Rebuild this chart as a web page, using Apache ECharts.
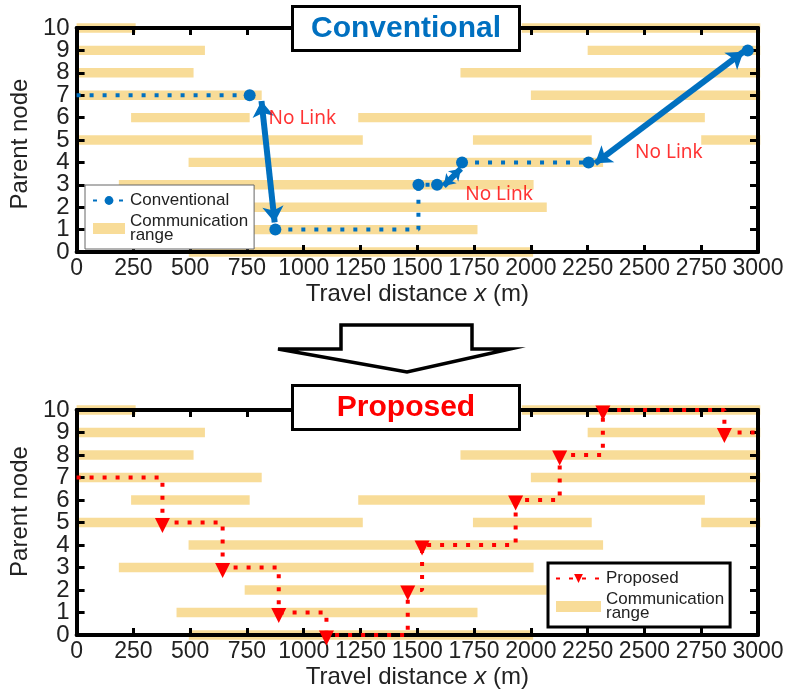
<!DOCTYPE html>
<html>
<head>
<meta charset="utf-8">
<title>Conventional vs Proposed</title>
<script src="https://cdn.jsdelivr.net/npm/echarts@6/dist/echarts.min.js"></script>
<style>
    html, body { margin: 0; padding: 0; background: #fff; }
    #chart { width: 787px; height: 696px; }
</style>
</head>
<body>
<div id="chart"></div>
<script>
//通信范围 (same for both plots): row, start, end in m
var rangeRow = [10, 10, 9, 9, 8, 8, 7, 7, 6, 6, 5, 5, 5, 4, 3, 2, 1, 0];
var rangeStart = [0, 1960, 0, 2250, 0, 1690, 0, 2000, 240, 1240, 0, 1745, 2750, 493, 186, 740, 440, 494];
var rangeEnd = [260, 3010, 565, 3010, 515, 3010, 815, 3010, 762, 2766, 1260, 2268, 3010, 2318, 2012, 2070, 1765, 2010];

//Conventional path ('-' = break)
var convX = [0, 762, '-', 875, 1505, 1505, 1587, '-', 1697, 2254, '-', 2955];
var convY = [7, 7, '-', 1, 1, 3, 3, '-', 4, 4, '-', 9];
var convMark = [0, 1, 0, 1, 0, 1, 1, 0, 1, 1, 0, 1];

//No Link arrows
var arrowFrom = [[814, 6.74], [1616, 2.95], [2283, 3.96]];
var arrowTo = [[872, 1.32], [1692, 3.72], [2936, 8.94]];
var arrowHead = [16, 11, 16];
var noLinkPos = [[845, 5.97], [1711, 2.58], [2459, 4.43]];

//Proposed path
var propX = [0, 378, 378, 643, 643, 890, 890, 1100, 1100, 1458, 1458, 1521, 1521, 1933, 1933, 2127, 2127, 2317, 2317, 2852, 2852, 3000];
var propY = [7, 7, 5, 5, 3, 3, 1, 1, 0, 0, 2, 2, 4, 4, 6, 6, 8, 8, 10, 10, 9, 9];
var propMark = [0, 0, 1, 0, 1, 0, 1, 0, 1, 0, 1, 0, 1, 0, 1, 0, 1, 0, 1, 0, 1, 0];

//刻度
var xTicks = { min: 0, max: 3000, interval: 250 };
var yTicks = { min: 0, max: 10, interval: 1 };
var yLabels = ['0', '1', '2', '3', '4', '5', '6', '7', '8', '9', '10'];

var BLUE = '#0070c0';
var RED = '#ff0000';
var TAN = '#f8dc98';
var FONT = 'Liberation Sans';

//组装数据
function rangeData() {
    var out = [];
    for (var i = 0; i < rangeRow.length; i++) {
        out.push([rangeStart[i], rangeEnd[i], rangeRow[i]]);
    }
    return out;
}
function pathData(xs, ys, marks, sym) {
    var out = [];
    for (var i = 0; i < xs.length; i++) {
        out.push({ value: [xs[i], ys[i]], symbol: marks[i] ? sym : 'none' });
    }
    return out;
}

//范围条
function renderRange(params, api) {
    var s = api.coord([api.value(0), api.value(2)]);
    var e = api.coord([api.value(1), api.value(2)]);
    var h = api.size([0, 1])[1] * 0.42;
    return {
        type: 'rect',
        shape: { x: s[0], y: s[1] - h / 2, width: e[0] - s[0], height: h },
        style: { fill: TAN }
    };
}

function plainLabel(v) {
    return String(v);
}

function xAxisOpt(grid, pos, nameGap) {
    var main = pos === 'bottom';
    return {
        type: 'value', gridIndex: grid, position: pos,
        min: xTicks.min, max: xTicks.max, interval: xTicks.interval, z: 3,
        name: main ? 'Travel distance {i|x} (m)' : '',
        nameLocation: 'middle', nameGap: nameGap,
        nameTextStyle: {
            fontFamily: FONT, fontSize: 24, color: '#222',
            rich: { i: { fontFamily: FONT, fontSize: 24, fontStyle: 'italic', color: '#222' } }
        },
        axisLine: { show: true, onZero: false, lineStyle: { color: '#000', width: 4 } },
        axisTick: { show: true, inside: true, length: 7, lineStyle: { color: '#000', width: 3 } },
        axisLabel: {
            show: main, margin: 5, fontFamily: FONT, fontSize: 23, color: '#222', interval: 0,
            formatter: plainLabel, showMinLabel: true, showMaxLabel: true, hideOverlap: false
        },
        splitLine: { show: false }
    };
}
//左轴: 只用于刻度标签 (category, all labels shown)
function yLabelAxisOpt(grid, namePad) {
    return {
        type: 'category', gridIndex: grid, position: 'left', data: yLabels,
        boundaryGap: false, z: 3,
        name: 'Parent node', nameLocation: 'middle', nameGap: 42,
        nameTextStyle: { fontFamily: FONT, fontSize: 24, color: '#222', padding: namePad },
        axisLine: { show: true, onZero: false, lineStyle: { color: '#000', width: 4 } },
        axisTick: { show: true, inside: true, length: 8, interval: 0, lineStyle: { color: '#000', width: 3 } },
        axisLabel: { show: true, interval: 0, margin: 7, fontFamily: FONT, fontSize: 24, color: '#222' },
        splitLine: { show: false }
    };
}
//右轴: 数值轴, series drawn on it
function yValueAxisOpt(grid) {
    return {
        type: 'value', gridIndex: grid, position: 'right',
        min: yTicks.min, max: yTicks.max, interval: yTicks.interval, z: 3,
        axisLine: { show: true, onZero: false, lineStyle: { color: '#000', width: 4 } },
        axisTick: { show: true, inside: true, length: 8, lineStyle: { color: '#000', width: 3 } },
        axisLabel: { show: false },
        splitLine: { show: false }
    };
}

function legendOpt(name, left, top, iconW, border, borderW) {
    return {
        orient: 'vertical', left: left, top: top, z: 10,
        data: [{ name: name }, { name: 'Communication range', icon: 'rect' }],
        itemWidth: iconW, itemHeight: 11, itemGap: 4, itemStyle: { borderWidth: 0 },
        padding: [7, 6, 5, 7],
        borderColor: border, borderWidth: borderW, backgroundColor: '#fff',
        selectedMode: false,
        textStyle: { fontFamily: FONT, fontSize: 17, lineHeight: 14, color: '#222' },
        formatter: function (n) {
            return n === 'Communication range' ? 'Communication\nrange' : n;
        }
    };
}

function titleOpt(text, color, top) {
    return {
        text: '{t|' + text + '}', left: 292, top: top, z: 10,
        padding: [5, 1, 4, 1],
        borderColor: '#000', borderWidth: 3, backgroundColor: '#fff',
        textStyle: {
            rich: {
                t: { width: 226, height: 36, align: 'center', fontFamily: FONT, fontWeight: 'bold', fontSize: 30, lineHeight: 36, color: color }
            }
        }
    };
}

function getOption() {
    var arrows = [];
    for (var i = 0; i < arrowFrom.length; i++) {
        arrows.push({ coords: [arrowFrom[i], arrowTo[i]], symbolSize: arrowHead[i] });
    }
    return {
        animation: false,
        backgroundColor: '#fff',
        title: [titleOpt('Conventional', BLUE, 6), titleOpt('Proposed', RED, 385)],
        legend: [
            legendOpt('Conventional', 85, 185, 32, '#666', 1),
            legendOpt('Proposed', 548, 563, 45, '#000', 3)
        ],
        grid: [
            { left: 76, right: 29, top: 28, height: 224 },
            { left: 73, right: 29, top: 410, height: 225 }
        ],
        xAxis: [xAxisOpt(0, 'bottom', 30), xAxisOpt(0, 'top', 0), xAxisOpt(1, 'bottom', 30), xAxisOpt(1, 'top', 0)],
        yAxis: [yLabelAxisOpt(0, [0, 8, 0, 0]), yValueAxisOpt(0), yLabelAxisOpt(1, [0, 0, 0, 22]), yValueAxisOpt(1)],
        series: [
            {
                name: 'Communication range', type: 'custom', xAxisIndex: 0, yAxisIndex: 1,
                renderItem: renderRange, data: rangeData(), encode: { x: [0, 1], y: 2 },
                itemStyle: { color: TAN }, clip: false, z: 1, silent: true
            },
            {
                name: 'Communication range', type: 'custom', xAxisIndex: 2, yAxisIndex: 3,
                renderItem: renderRange, data: rangeData(), encode: { x: [0, 1], y: 2 },
                itemStyle: { color: TAN }, clip: false, z: 1, silent: true
            },
            {
                name: 'Conventional', type: 'line', xAxisIndex: 0, yAxisIndex: 1,
                data: pathData(convX, convY, convMark, 'circle'),
                symbol: 'circle', symbolSize: 12, showAllSymbol: true, connectNulls: false,
                itemStyle: { color: BLUE },
                lineStyle: { color: BLUE, width: 4, type: [4, 9], cap: 'butt' },
                clip: false, z: 5
            },
            {
                name: 'arrows', type: 'lines', coordinateSystem: 'cartesian2d', xAxisIndex: 0, yAxisIndex: 1,
                data: arrows, symbol: ['arrow', 'arrow'], symbolSize: 16,
                lineStyle: { color: BLUE, width: 6, opacity: 1, curveness: 0 },
                z: 6, silent: true
            },
            {
                name: 'noLink', type: 'scatter', xAxisIndex: 0, yAxisIndex: 1,
                data: noLinkPos, symbolSize: 0, silent: true, z: 6,
                label: {
                    show: true, position: 'right', distance: 0, formatter: 'No Link',
                    fontFamily: 'Noto Sans', fontSize: 19, color: RED
                }
            },
            {
                name: 'Proposed', type: 'line', xAxisIndex: 2, yAxisIndex: 3,
                data: pathData(propX, propY, propMark, 'triangle'),
                symbol: 'triangle', symbolSize: 15, symbolRotate: 180, symbolOffset: [0, 3],
                showAllSymbol: true,
                itemStyle: { color: RED },
                lineStyle: { color: RED, width: 4, type: [4, 9], cap: 'butt' },
                clip: false, z: 5
            }
        ],
        graphic: [{
            //中间的大箭头
            type: 'polygon', z: 10,
            shape: { points: [[341, 325], [472, 325], [472, 349], [510, 349], [407, 372], [278, 349], [341, 349]] },
            style: { fill: '#fff', stroke: '#000', lineWidth: 3.5, lineJoin: 'miter' }
        }]
    };
}

var chart = echarts.init(document.getElementById('chart'));
chart.setOption(getOption());
</script>
</body>
</html>
